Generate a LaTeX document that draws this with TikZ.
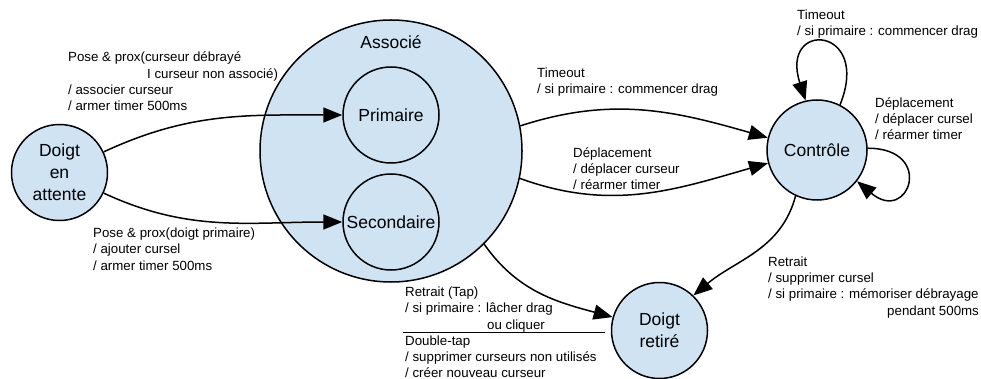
\documentclass[tikz,border=0pt]{standalone}
\usepackage{fontspec}
\setmainfont{Liberation Sans}
\usetikzlibrary{arrows.meta}
\definecolor{statefill}{RGB}{207,227,243}
\tikzstyle{state} = [circle, draw=black, line width=1.5pt, fill=statefill, minimum size=96pt, inner sep=0pt, align=center, font=\fontsize{17.5}{22}\selectfont]
\tikzstyle{arrow} = [line width=1.5pt, -{Triangle[length=19pt,width=15pt]}]
\tikzstyle{lbl} = [anchor=base west, align=left, inner sep=0pt, font=\fontsize{13.3}{16.2}\selectfont]

\begin{document}
\begin{tikzpicture}[x=1pt,y=-1pt]
        \useasboundingbox (0,0) rectangle (981,379);
        % states
        \node (assoc) [state, minimum size=262pt] at (391,151) {};
        \node (assoctxt) [font=\fontsize{17.5}{22}\selectfont] at (391,42) {Associé};
        \node (prim) [state] at (391,115) {Primaire};
        \node (sec) [state] at (391,222) {Secondaire};
        \node (wait) [state] at (59.5,172.5) {Doigt\\en\\attente};
        \node (ctrl) [state, minimum size=100pt] at (817,150) {Contrôle};
        \node (retire) [state] at (659.5,330.5) {Doigt\\retiré};
        % transitions
        \draw [arrow] (wait.25) to[out=25,in=180] (prim.west);
        \draw [arrow] (wait.-25) to[out=-25,in=180] (sec.west);
        \draw [arrow] (assoc.11) to[out=18,in=164] (ctrl.166);
        \draw [arrow] (assoc.-12) to[out=-20,in=196] (ctrl.195);
        \draw [arrow] (assoc.-45) to[out=-55,in=165] (retire.164);
        \draw [arrow] (ctrl.-115) to[out=-105,in=40] (retire.46);
        \draw [arrow] (ctrl.63) to[out=68,in=108,looseness=6.3] (ctrl.103);
        \draw [arrow] (ctrl.2) to[out=0,in=-40,looseness=5] (ctrl.-38);
        % labels (base = last line)
        \node (l1) [lbl] at (68,110.5) {Pose \& prox(curseur débrayé\\\hspace*{79pt}I curseur non associé)\\/ associer curseur\\/ armer timer 500ms};
        \node (l2) [lbl] at (93,270) {Pose \& prox(doigt primaire)\\/ ajouter cursel\\/ armer timer 500ms};
        \node (l3) [lbl] at (537,93.7) {Timeout\\/ si primaire : commencer drag};
        \node (l4) [lbl] at (573,190) {Déplacement\\/ déplacer curseur\\/ réarmer timer};
        \node (l5) [lbl] at (797,35.7) {Timeout\\/ si primaire : commencer drag};
        \node (l6) [lbl] at (875,140) {Déplacement\\/ déplacer cursel\\/ réarmer timer};
        \node (l7) [lbl] at (768,315) {Retrait\\/ supprimer cursel\\/ si primaire : mémoriser débrayage\\\hspace*{119pt}pendant 500ms};
        \node (l8) [lbl] at (405,329) {Retrait (Tap)\\/ si primaire : lâcher drag\\\hspace*{82pt}ou cliquer};
        \node (l9) [lbl] at (405,377.5) {Double-tap\\/ supprimer curseurs non utilisés\\/ créer nouveau curseur};
        \draw [line width=0.8pt] (403,332) -- (605,332);
    \end{tikzpicture}
\end{document}
